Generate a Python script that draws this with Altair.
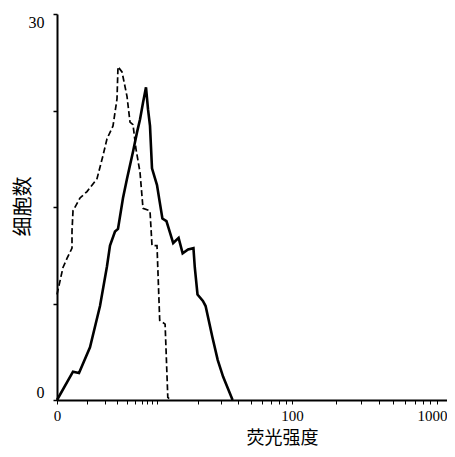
import math
import altair as alt
import pandas as pd

# x in "decade" units of the log fluorescence axis (0 -> label "0", 2 -> "100", 3 -> "1000")
solid_x = [0, 0.16, 0.22, 0.33, 0.43, 0.50, 0.53, 0.58, 0.61, 0.66, 0.70, 0.76, 0.80, 0.83, 0.86,
           0.89, 0.91, 0.93, 0.95, 1.00, 1.02, 1.04, 1.07, 1.12, 1.16, 1.19, 1.23, 1.27, 1.28, 1.30,
           1.34, 1.36, 1.41, 1.45, 1.49, 1.56]
solid_y = [0, 2.2, 2.1, 4.1, 7.3, 10.4, 12.0, 13.1, 13.3, 15.7, 17.2, 19.3, 20.8, 21.8, 23.1,
           24.3, 22.6, 21.3, 18.0, 16.7, 15.4, 14.1, 13.9, 12.2, 12.6, 11.4, 11.7, 11.8, 10.3, 8.2,
           7.7, 7.3, 4.9, 3.1, 1.8, 0]
dashed_x = [0, 0.06, 0.10, 0.15, 0.15, 0.16, 0.23, 0.30, 0.40, 0.46, 0.50, 0.56, 0.60, 0.61,
            0.65, 0.70, 0.73, 0.76, 0.79, 0.83, 0.86, 0.93, 0.95, 1.00, 1.02, 1.06, 1.08, 1.10]
dashed_y = [8.2, 10.3, 11.0, 11.8, 13.1, 14.7, 15.7, 16.2, 17.2, 19.0, 20.3, 21.3, 23.4, 25.9,
            25.5, 23.6, 21.6, 21.4, 19.5, 17.7, 14.9, 14.7, 12.0, 12.0, 6.2, 5.9, 0.2, 0]

x_tick_values = [round(d + math.log10(k), 4) for d in range(3) for k in range(1, 10)] + [3]
y_tick_values = [0, 7.5, 15, 22.5, 30]

solid = pd.DataFrame({"x": solid_x, "y": solid_y, "i": range(len(solid_x))})
dashed = pd.DataFrame({"x": dashed_x, "y": dashed_y, "i": range(len(dashed_x))})

xscale = alt.Scale(domain=[0, 1, 2, 3, 3.069], range=[0, 100, 235, 380, 390], nice=False, zero=False)
yscale = alt.Scale(domain=[0, 30], nice=False)

xaxis = alt.Axis(
    values=x_tick_values, tickCount=200,
    labelExpr="datum.value == 0 ? '0' : (datum.value == 2 ? '100' : (datum.value == 3 ? '1000' : ''))",
    labelAlign={"condition": {"test": "datum.value == 3", "value": "right"}, "value": "center"},
    labelOffset={"condition": {"test": "datum.value == 3", "value": 10}, "value": 0},
    labelOverlap=False, labelFlush=False, grid=False,
    tickSize=4, tickColor="black", tickWidth=1,
    domainColor="black", domainWidth=2,
    labelFont="Liberation Serif", labelFontSize=15, labelColor="black", labelPadding=4,
    title="荧光强度", titleFont="Noto Sans CJK SC", titleFontSize=18, titleFontWeight="normal",
    titleColor="black", titleX=225, titleY=47, titleAlign="center", titleBaseline="bottom",
)
yaxis = alt.Axis(
    values=y_tick_values, tickCount=50,
    labelExpr="datum.value == 0 ? '0' : (datum.value == 30 ? '30' : '')",
    labelBaseline={"condition": {"test": "datum.value == 0", "value": "bottom"}, "value": "top"},
    labelOverlap=False, labelFlush=False, grid=False,
    tickSize=4, tickColor="black", tickWidth=1.5,
    domainColor="black", domainWidth=2,
    labelFont="Liberation Serif", labelFontSize=16, labelColor="black", labelPadding=9,
    title="细胞数", titleFont="Noto Sans CJK SC", titleFontSize=20, titleFontWeight="normal",
    titleColor="black", titleX=-34, titleY=192, titleAlign="center", titleBaseline="middle",
    titleAngle=270,
)

solid_line = alt.Chart(solid).mark_line(color="black", strokeWidth=2.6).encode(
    x=alt.X("x:Q", scale=xscale, axis=xaxis),
    y=alt.Y("y:Q", scale=yscale, axis=yaxis),
    order="i:Q",
)
dashed_line = alt.Chart(dashed).mark_line(color="black", strokeWidth=1.7, strokeDash=[6, 3]).encode(
    x=alt.X("x:Q", scale=xscale),
    y=alt.Y("y:Q", scale=yscale),
    order="i:Q",
)

chart = alt.layer(solid_line, dashed_line).properties(
    width=390, height=386,
    autosize=alt.AutoSizeParams(type="none"),
    padding={"left": 49, "top": 6, "right": 0, "bottom": 49},
    background="white",
).configure_view(stroke=None)

chart.save("out.html", embed_options={"renderer": "svg", "actions": False})
